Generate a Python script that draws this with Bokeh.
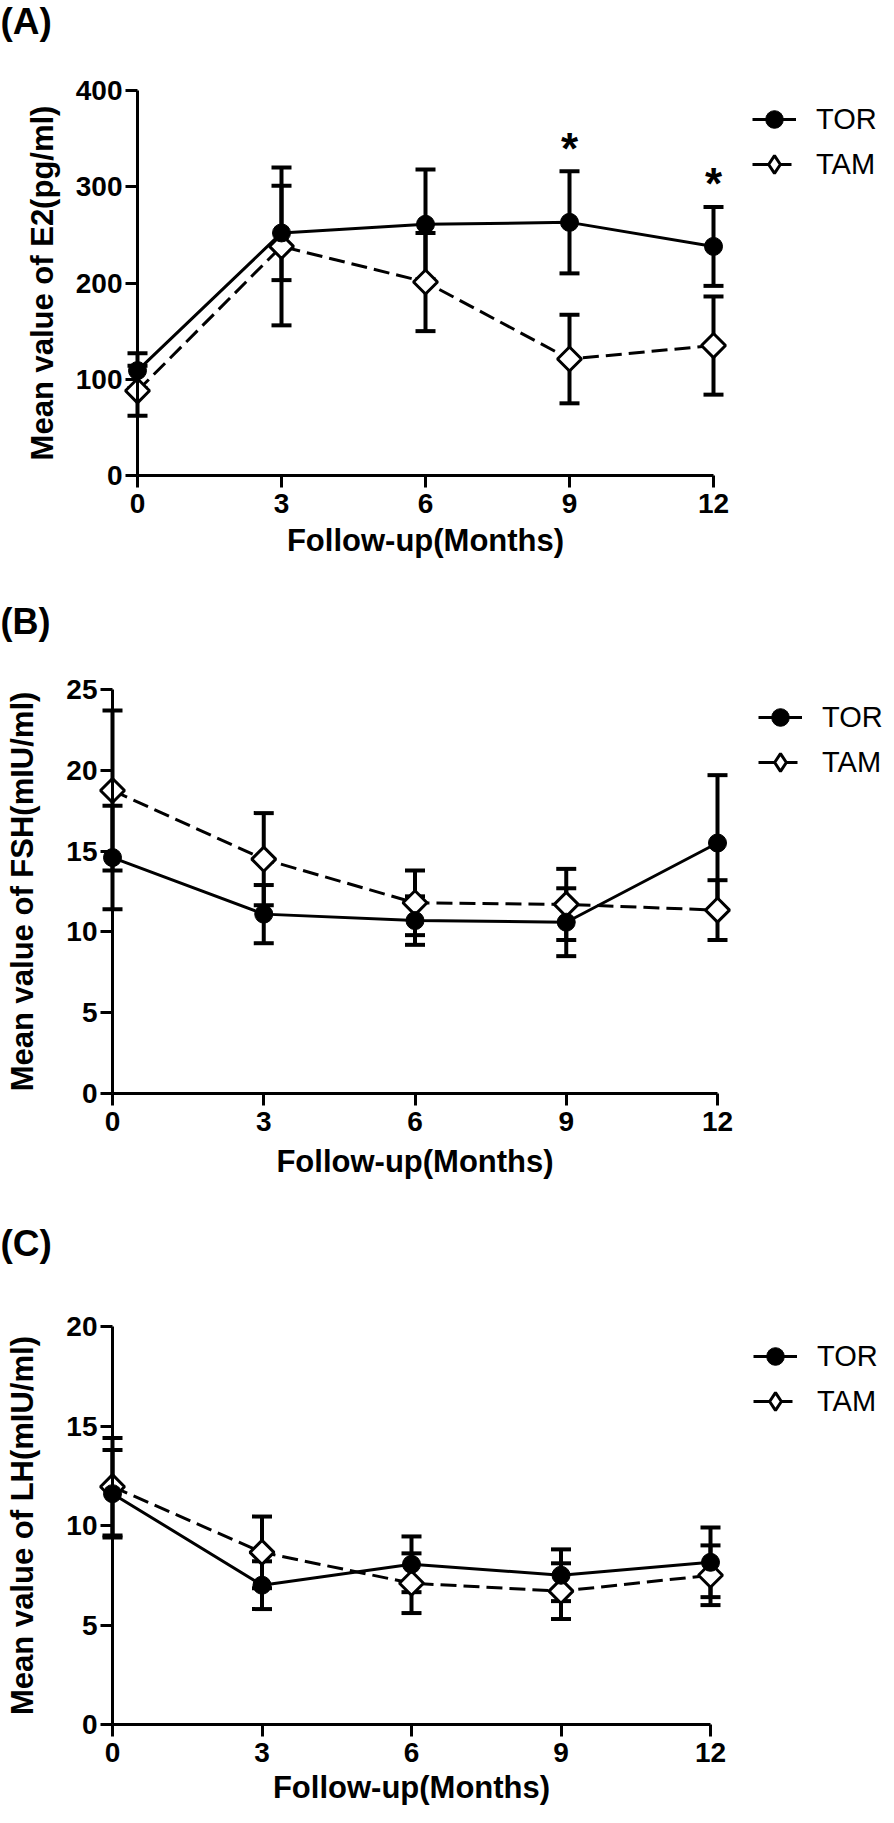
import math
from bokeh.plotting import figure
from bokeh.models import (Range1d, LinearAxis, FixedTicker, Whisker, TeeHead,
                          ColumnDataSource, Legend, LegendItem, Label)
from bokeh.layouts import column
from bokeh.core.properties import value
from bokeh.embed import file_html
from bokeh.resources import INLINE

# ---------------- data ----------------
months = [0, 3, 6, 9, 12]
x_ticks = [0, 3, 6, 9, 12]
x_title = "Follow-up(Months)"
series_names = ["TOR", "TAM"]

e2_tor = [109, 252, 261, 263, 238]
e2_tor_sd = [18, 49, 57, 53, 41]
e2_tam = [88, 238, 201, 121, 135]
e2_tam_sd = [26, 82, 51, 46, 51]
e2_ticks = [0, 100, 200, 300, 400]
e2_sig_months = [9, 12]

fsh_tor = [14.6, 11.1, 10.7, 10.6, 15.5]
fsh_tor_sd = [3.2, 1.8, 1.5, 2.1, 4.2]
fsh_tam = [18.75, 14.5, 11.8, 11.7, 11.35]
fsh_tam_sd = [4.95, 2.85, 2.0, 2.2, 1.85]
fsh_ticks = [0, 5, 10, 15, 20, 25]

lh_tor = [11.6, 7.0, 8.05, 7.5, 8.15]
lh_tor_sd = [2.2, 1.2, 1.4, 1.3, 1.75]
lh_tam = [11.95, 8.65, 7.1, 6.7, 7.5]
lh_tam_sd = [2.45, 1.8, 1.5, 1.4, 1.5]
lh_ticks = [0, 5, 10, 15, 20]

FONT = "Liberation Sans"
FIG_W = 894


def panel(tag, ylabel, yticks, tor, tor_sd, tam, tam_sd, g, sig=None):
    h = g["bottom"] - g["top"]
    kx = (g["x12"] - g["x0"]) / 12.0
    x_start = -g["x0"] / kx
    x_end = x_start + FIG_W / kx
    ytop_val = yticks[-1]
    ky = (g["y0"] - g["ytop"]) / ytop_val
    y_start = -(g["bottom"] - g["y0"]) / ky
    y_end = y_start + h / ky

    p = figure(width=FIG_W, height=h, output_backend="svg", toolbar_location=None,
               x_range=Range1d(x_start, x_end), y_range=Range1d(y_start, y_end),
               x_axis_location=None, y_axis_location=None, min_border=0)
    p.outline_line_color = None
    p.xgrid.visible = False
    p.ygrid.visible = False
    # a range far away from the data: glyphs mapped through it stay off-canvas
    p.extra_y_ranges = {"key": Range1d(1e6, 1e6 + 1)}

    for ax_kind in ("x", "y"):
        if ax_kind == "x":
            ax = LinearAxis(fixed_location=0, bounds=(0, 12),
                            ticker=FixedTicker(ticks=x_ticks, minor_ticks=[]))
            ax.axis_label = x_title
            ax.axis_label_standoff = g["xstand"]
            ax.major_label_standoff = 6
        else:
            ax = LinearAxis(fixed_location=0, bounds=(0, ytop_val),
                            ticker=FixedTicker(ticks=yticks, minor_ticks=[]))
            ax.axis_label = ylabel
            ax.axis_label_standoff = g["ystand"]
            ax.major_label_standoff = 3
        ax.axis_label_text_font_size = "31px"
        ax.axis_line_width = 3
        ax.axis_line_color = "black"
        ax.major_tick_line_width = 3
        ax.major_tick_line_color = "black"
        ax.major_tick_out = 12
        ax.major_tick_in = 0
        ax.minor_tick_line_color = None
        ax.major_label_text_font = FONT
        ax.major_label_text_font_style = "bold"
        ax.major_label_text_font_size = "28px"
        ax.major_label_text_color = "black"
        ax.axis_label_text_font = FONT
        ax.axis_label_text_font_style = "bold"
        ax.axis_label_text_color = "black"
        p.add_layout(ax, "below" if ax_kind == "x" else "left")

    src_tor = ColumnDataSource(dict(x=months, y=tor,
                                    lo=[a - b for a, b in zip(tor, tor_sd)],
                                    hi=[a + b for a, b in zip(tor, tor_sd)]))
    src_tam = ColumnDataSource(dict(x=months, y=tam,
                                    lo=[a - b for a, b in zip(tam, tam_sd)],
                                    hi=[a + b for a, b in zip(tam, tam_sd)],
                                    ang=[math.pi / 4] * len(months)))

    for src in (src_tam, src_tor):
        w = Whisker(base="x", upper="hi", lower="lo", source=src, dimension="height",
                    line_width=4, line_color="black",
                    upper_head=TeeHead(size=20, line_width=4, line_color="black"),
                    lower_head=TeeHead(size=20, line_width=4, line_color="black"))
        p.add_layout(w)

    tam_line = p.line("x", "y", source=src_tam, line_width=3, line_color="black",
                      line_dash="16 7")
    tor_line = p.line("x", "y", source=src_tor, line_width=3, line_color="black")
    p.scatter("x", "y", source=src_tam, marker="square", angle="ang", size=17,
              fill_color="white", line_color="black", line_width=3)
    tor_pts = p.scatter("x", "y", source=src_tor, marker="circle", size=18,
                        fill_color="black", line_color="black", line_width=1)
    # legend key for TAM: diamond glyph of the same data, mapped off-canvas
    tam_key = p.scatter("x", "y", source=src_tam, marker="diamond", y_range_name="key",
                        fill_color="white", line_color="black", line_width=3)

    if sig:
        sy = [tor[months.index(m)] + tor_sd[months.index(m)] for m in sig]
        p.text(x=sig, y=sy, text=["*"] * len(sig), text_font=value(FONT),
               text_font_style="bold", text_font_size="44px", text_align="center",
               text_baseline="alphabetic", y_offset=-23, text_color="black")

    legend = Legend(items=[LegendItem(label=series_names[0], renderers=[tor_line, tor_pts]),
                           LegendItem(label=series_names[1], renderers=[tam_line, tam_key])],
                    location=g["legend"], border_line_color=None, background_fill_alpha=0,
                    padding=0, margin=0, spacing=1, glyph_width=44, glyph_height=44,
                    label_height=44, label_standoff=20,
                    label_text_font=FONT, label_text_font_size="29px",
                    label_text_color="black")
    p.add_layout(legend)

    p.add_layout(Label(x=0, y=h - g["label_top"], x_units="screen", y_units="screen",
                       text=tag, text_font=FONT, text_font_style="bold",
                       text_font_size=g["label_size"], text_baseline="top",
                       text_color="black"))
    return p


geo_a = dict(top=0, bottom=590, x0=137, x12=713, y0=475, ytop=90,
             legend=(752, 404), label_top=0, label_size="37px", xstand=7, ystand=13)
geo_b = dict(top=590, bottom=1200, x0=112, x12=717, y0=1093, ytop=689,
             legend=(758, 416), label_top=10, label_size="36px", xstand=10, ystand=23)
geo_c = dict(top=1200, bottom=1822, x0=112, x12=710, y0=1724, ytop=1326,
             legend=(753, 399), label_top=22, label_size="37px", xstand=5, ystand=23)

pa = panel("(A)", "Mean value of E2(pg/ml)", e2_ticks, e2_tor, e2_tor_sd, e2_tam, e2_tam_sd,
           geo_a, sig=e2_sig_months)
pb = panel("(B)", "Mean value of FSH(mIU/ml)", fsh_ticks, fsh_tor, fsh_tor_sd, fsh_tam,
           fsh_tam_sd, geo_b)
pc = panel("(C)", "Mean value of LH(mIU/ml)", lh_ticks, lh_tor, lh_tor_sd, lh_tam, lh_tam_sd,
           geo_c)

layout = column(pa, pb, pc, spacing=0)
open("out.html", "w").write(file_html(layout, INLINE))
